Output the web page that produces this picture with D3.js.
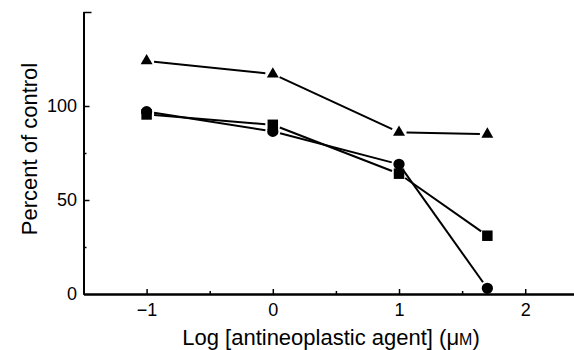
<!DOCTYPE html>
<html>
<head>
<meta charset="utf-8">
<script src="https://cdn.jsdelivr.net/npm/d3@7"></script>
<style>
  body { margin: 0; background: #fff; }
  svg { display: block; font-family: "Liberation Sans", Arial, sans-serif; }
</style>
</head>
<body>
<div id="chart"></div>
<script>
var W = 574, H = 350;

// log concentration (uM)
var doses = [-1, 0, 1, 1.7];
var triangleVals = [124, 117, 86, 85];
var circleVals = [97, 86.5, 69, 3];
var squareVals = [95.5, 90, 64, 31];

var xMajor = [-1, 0, 1, 2];
var xMinor = [-0.5, 0.5, 1.5];
var yMajor = [0, 50, 100];
var yMinor = [25, 75];

var svg = d3.select("#chart").append("svg")
  .attr("width", W)
  .attr("height", H);

var x = d3.scaleLinear()
  .domain([-1.5, 2.4])
  .range([83.5, 575.7]);
var y = d3.scaleLinear()
  .domain([0, 150])
  .range([294, 12]);

function fmt(d) { return d < 0 ? "\u2212" + Math.abs(d) : String(d); }

// x axis
var gx = svg.append("g")
  .attr("transform", "translate(0,294)");
gx.call(d3.axisBottom(x).tickValues(xMajor).tickFormat(fmt)
  .tickSizeInner(-5).tickSizeOuter(0).tickPadding(9));
gx.append("g").call(d3.axisBottom(x).tickValues(xMinor).tickFormat("")
  .tickSizeInner(-3).tickSizeOuter(0));
gx.selectAll(".domain").attr("stroke-width", 2);
gx.selectAll(".tick line").attr("stroke-width", 1.5);
gx.selectAll("text").attr("font-size", 18).attr("fill", "#000")
  .attr("font-family", "Liberation Sans, Arial, sans-serif");

// y axis
var gy = svg.append("g")
  .attr("transform", "translate(83.5,0)");
gy.call(d3.axisLeft(y).tickValues(yMajor).tickFormat(fmt)
  .tickSizeInner(-6).tickSizeOuter(0).tickPadding(6.5));
gy.append("g").call(d3.axisLeft(y).tickValues(yMinor).tickFormat("")
  .tickSizeInner(-3).tickSizeOuter(0));
gy.append("g").call(d3.axisLeft(y).tickValues([150]).tickFormat("")
  .tickSizeInner(-8).tickSizeOuter(0));
gy.selectAll(".domain").attr("stroke-width", 2);
gy.selectAll(".tick line").attr("stroke-width", 1.5);
gy.selectAll("text").attr("font-size", 18).attr("fill", "#000")
  .attr("font-family", "Liberation Sans, Arial, sans-serif");
gy.selectAll(".tick").filter(function(d) { return d === 0; }).select("line").remove();

// series lines, stopped a little short of each marker
var series = [
  { vals: triangleVals, shape: d3.symbolTriangle, size: 62 },
  { vals: circleVals, shape: d3.symbolCircle, size: 100 },
  { vals: squareVals, shape: d3.symbolSquare, size: 110 }
];
var gap = 7.5;

series.forEach(function(s) {
  var pts = doses.map(function(d, i) { return [x(d), y(s.vals[i])]; });
  var segs = d3.pairs(pts);
  svg.append("g").selectAll("line")
    .data(segs)
    .enter()
    .append("line")
    .attr("x1", function(p) { return p[0][0] + gap * unit(p)[0]; })
    .attr("y1", function(p) { return p[0][1] + gap * unit(p)[1]; })
    .attr("x2", function(p) { return p[1][0] - gap * unit(p)[0]; })
    .attr("y2", function(p) { return p[1][1] - gap * unit(p)[1]; })
    .attr("stroke", "#000")
    .attr("stroke-width", 2);
});

series.forEach(function(s) {
  svg.append("g").selectAll("path")
    .data(doses)
    .enter()
    .append("path")
    .attr("transform", function(d, i) { return "translate(" + x(d) + "," + y(s.vals[i]) + ")"; })
    .attr("d", d3.symbol().type(s.shape).size(s.size))
    .attr("fill", "#000");
});

function unit(p) {
  var dx = p[1][0] - p[0][0], dy = p[1][1] - p[0][1];
  var len = Math.sqrt(dx * dx + dy * dy);
  return [dx / len, dy / len];
}

// axis titles
var xt = svg.append("text")
  .attr("x", 331)
  .attr("y", 345)
  .attr("text-anchor", "middle")
  .attr("font-size", 22)
  .text("Log [antineoplastic agent] (\u03bc");
xt.append("tspan").attr("font-size", 16).text("M");
xt.append("tspan").text(")");

svg.append("text")
  .attr("transform", "translate(37,149)rotate(-90)")
  .attr("text-anchor", "middle")
  .attr("font-size", 22)
  .text("Percent of control");
</script>
</body>
</html>
